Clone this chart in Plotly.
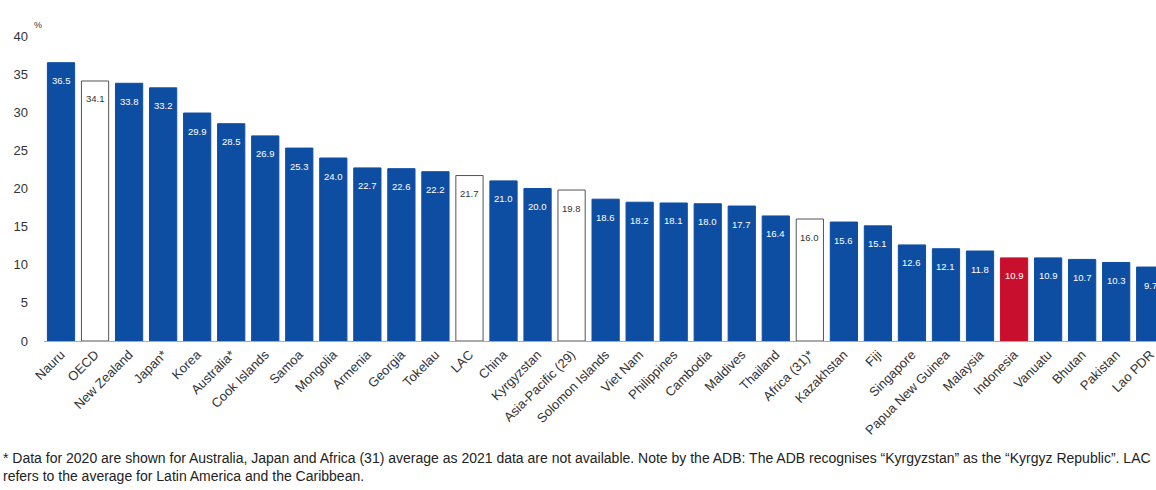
import plotly.graph_objects as go

categories = ["Nauru", "OECD", "New Zealand", "Japan*", "Korea", "Australia*", "Cook Islands",
              "Samoa", "Mongolia", "Armenia", "Georgia", "Tokelau", "LAC", "China", "Kyrgyzstan",
              "Asia-Pacific (29)", "Solomon Islands", "Viet Nam", "Philippines", "Cambodia",
              "Maldives", "Thailand", "Africa (31)*", "Kazakhstan", "Fiji", "Singapore",
              "Papua New Guinea", "Malaysia", "Indonesia", "Vanuatu", "Bhutan", "Pakistan", "Lao PDR"]
values = [36.5, 34.1, 33.8, 33.2, 29.9, 28.5, 26.9, 25.3, 24.0, 22.7, 22.6, 22.2, 21.7, 21.0, 20.0,
          19.8, 18.6, 18.2, 18.1, 18.0, 17.7, 16.4, 16.0, 15.6, 15.1, 12.6, 12.1, 11.8, 10.9, 10.9,
          10.7, 10.3, 9.7]
averages = ["OECD", "LAC", "Asia-Pacific (29)", "Africa (31)*"]
highlight = ["Indonesia"]

footnote = ("* Data for 2020 are shown for Australia, Japan and Africa (31) average as 2021 data are not "
            "available. Note by the ADB: The ADB recognises \u201cKyrgyzstan\u201d as the \u201cKyrgyz Republic\u201d. LAC"
            "<br>refers to the average for Latin America and the Caribbean.")

BLUE = "#0D4EA3"
RED = "#C8102E"
W, H = 1156, 490
ML, MR, MT, MB = 44, 0, 36, 149

fill, line, txtc = [], [], []
for c in categories:
    if c in averages:
        fill.append("#FFFFFF"); line.append("#555555"); txtc.append("#333333")
    elif c in highlight:
        fill.append(RED); line.append(RED); txtc.append("#FFFFFF")
    else:
        fill.append(BLUE); line.append(BLUE); txtc.append("#FFFFFF")

fig = go.Figure(go.Bar(
    x=categories, y=values,
    marker=dict(color=fill, line=dict(color=line, width=1)),
    hoverinfo="x+y",
))

for c, v, tc in zip(categories, values, txtc):
    fig.add_annotation(x=c, y=v, text=f"{v:.1f}", showarrow=False, yshift=-18,
                       font=dict(size=9.5, color=tc, family="Liberation Sans, Arial"))

pw = W - ML - MR
ph = H - MT - MB
fig.add_annotation(xref="paper", yref="paper", x=(32 - ML) / pw, y=(H - MB - 18) / ph,
                   text="%", showarrow=False, font=dict(size=9, color="#333333"))
fig.add_annotation(xref="paper", yref="paper", x=(1 - ML) / pw, y=(H - MB - 448) / ph,
                   xanchor="left", yanchor="top", align="left", text=footnote, showarrow=False,
                   font=dict(size=14, color="#222222", family="Liberation Sans, Arial"))

fig.update_layout(
    width=W, height=H,
    margin=dict(l=ML, r=MR, t=MT, b=MB),
    paper_bgcolor="white", plot_bgcolor="white",
    bargap=0.2, showlegend=False,
    font=dict(family="Liberation Sans, Arial", color="#333333"),
)
fig.update_xaxes(type="category", range=[-0.5, 32.17], tickangle=-45,
                 tickfont=dict(size=13, color="#333333"),
                 showline=True, linecolor="#AAAAAA", linewidth=1, showgrid=False, ticks="")
fig.update_yaxes(range=[0, 40], dtick=5, showgrid=False, zeroline=False, showline=False,
                 tickfont=dict(size=13, color="#333333"), ticklabelstandoff=15)

fig.write_html("out.html")
